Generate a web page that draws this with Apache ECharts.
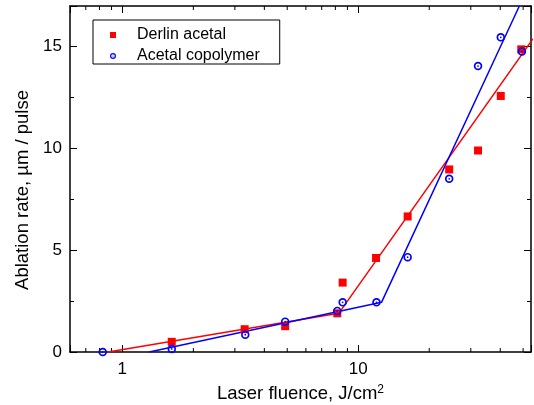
<!DOCTYPE html>
<html>
<head>
<meta charset="utf-8">
<script src="https://cdn.jsdelivr.net/npm/echarts@6/dist/echarts.min.js"></script>
<style>
html, body { margin: 0; padding: 0; background: #fff; }
#chart { width: 534px; height: 405px; }
</style>
</head>
<body>
<div id="chart"></div>
<script>
// measured points (fluence in J/cm2, rate in um / pulse)
var derlinFluence = [1.62, 3.30, 4.90, 8.15, 8.59, 11.9, 16.2, 24.3, 32.2, 40.2, 49.1];
var derlinRate    = [0.50, 1.12, 1.27, 1.90, 3.41, 4.62, 6.66, 8.97, 9.90, 12.58, 14.87];
var copolyFluence = [0.826, 1.62, 3.32, 4.90, 8.15, 8.59, 11.95, 16.2, 24.3, 32.2, 40.2, 49.4];
var copolyRate    = [0.00, 0.15, 0.85, 1.49, 2.02, 2.44, 2.44, 4.66, 8.51, 14.05, 15.46, 14.77];

// two-segment fit lines
var derlinFitX = [0.87, 8.27, 55];
var derlinFitY = [0, 1.90, 15.38];
var copolyFitX = [1.30, 12.55, 48.2];
var copolyFitY = [0, 2.44, 17.0];

// axes
var xMin = 0.6, xMax = 54;
var yMin = 0, yMax = 17;
var xMajorTicks = [1, 10];
var xMinorTicks = [0.7, 0.8, 0.9, 2, 3, 4, 5, 6, 7, 8, 9, 20, 30, 40, 50];

function pairs(xs, ys) {
  return xs.map(function (x, i) { return [x, ys[i]]; });
}

var squareSym = 'path://M0,0H10V10H0Z';
var ringDot = 'path://M10,0A10,10 0 1,1 10,20A10,10 0 1,1 10,0Z' +
  'M10,4A6,6 0 1,0 10,16A6,6 0 1,0 10,4Z' +
  'M10,8A2,2 0 1,1 10,12A2,2 0 1,1 10,8Z';

var axisCommon = {
  axisLine: { show: true, onZero: false, lineStyle: { color: '#000', width: 1.5 } },
  axisTick: { show: true, inside: true, length: 7, lineStyle: { color: '#000', width: 1 } },
  splitLine: { show: false }
};

var myChart = echarts.init(document.getElementById('chart'));

var option = {
  animation: false,
  backgroundColor: '#fff',
  grid: { left: 70, right: 3, top: 6, bottom: 53, outerBoundsMode: 'none' },
  legend: {
    data: ['Derlin acetal', 'Acetal copolymer'],
    orient: 'vertical',
    left: 93,
    top: 20,
    padding: [7, 20, 0, 17],
    itemWidth: 6,
    itemHeight: 6,
    itemGap: 5,
    symbolKeepAspect: true,
    borderColor: '#000',
    borderWidth: 1,
    backgroundColor: '#fff',
    textStyle: { fontFamily: 'Liberation Sans', fontSize: 16, color: '#000', padding: [0, 0, 0, 16] }
  },
  xAxis: [
    Object.assign({}, axisCommon, {
      type: 'log', logBase: 10, min: xMin, max: xMax, position: 'bottom',
      name: 'Laser fluence, J/cm{sup|2}',
      nameLocation: 'middle',
      nameGap: 32,
      nameTextStyle: {
        fontFamily: 'Liberation Sans', fontSize: 18.5, color: '#000',
        rich: { sup: { fontFamily: 'Liberation Sans', fontSize: 12, color: '#000', verticalAlign: 'top', padding: [0, 0, 8, 0] } }
      },
      axisLabel: {
        margin: 9, fontFamily: 'Liberation Sans', fontSize: 17, color: '#000',
        formatter: function (v) { return xMajorTicks.indexOf(Math.round(v * 1000) / 1000) >= 0 ? String(Math.round(v)) : ''; }
      }
    }),
    Object.assign({}, axisCommon, {
      type: 'log', logBase: 10, min: xMin, max: xMax, position: 'top',
      axisLabel: { show: false }
    })
  ],
  yAxis: [
    Object.assign({}, axisCommon, {
      type: 'value', min: yMin, max: yMax, interval: 5, position: 'left',
      name: 'Ablation rate, µm / pulse',
      nameLocation: 'middle',
      nameGap: 36,
      nameTextStyle: { fontFamily: 'Liberation Sans', fontSize: 18.5, color: '#000', padding: [0, 22, 0, 0] },
      minorTick: { show: true, splitNumber: 2, length: 4, lineStyle: { color: '#000', width: 1 } },
      axisLabel: {
        margin: 8, fontFamily: 'Liberation Sans', fontSize: 17, color: '#000',
        formatter: function (v) { return v % 5 === 0 ? String(v) : ''; }
      }
    }),
    Object.assign({}, axisCommon, {
      type: 'value', min: yMin, max: yMax, interval: 5, position: 'right',
      minorTick: { show: true, splitNumber: 2, length: 4, lineStyle: { color: '#000', width: 1 } },
      axisLabel: { show: false }
    })
  ],
  series: [
    {
      name: 'xMinorTicks',
      type: 'custom',
      silent: true,
      clip: false,
      data: xMinorTicks.map(function (v) { return [v, yMin]; }),
      encode: { x: 0, y: 1 },
      renderItem: function (params, api) {
        var b = api.coord([api.value(0), yMin]);
        var t = api.coord([api.value(0), yMax]);
        return {
          type: 'group',
          children: [
            { type: 'line', shape: { x1: b[0], y1: b[1], x2: b[0], y2: b[1] - 4 }, style: { stroke: '#000', lineWidth: 1 } },
            { type: 'line', shape: { x1: t[0], y1: t[1], x2: t[0], y2: t[1] + 4 }, style: { stroke: '#000', lineWidth: 1 } }
          ]
        };
      }
    },
    {
      name: 'Derlin fit',
      type: 'line',
      data: pairs(derlinFitX, derlinFitY),
      showSymbol: false,
      symbol: 'none',
      clip: true,
      z: 2,
      lineStyle: { color: '#ff0000', width: 1.5 }
    },
    {
      name: 'Copolymer fit',
      type: 'line',
      data: pairs(copolyFitX, copolyFitY),
      showSymbol: false,
      symbol: 'none',
      clip: true,
      z: 2,
      lineStyle: { color: '#0000ff', width: 1.5 }
    },
    {
      name: 'Derlin acetal',
      type: 'scatter',
      data: pairs(derlinFluence, derlinRate),
      symbol: squareSym,
      symbolSize: 8,
      clip: false,
      z: 3,
      itemStyle: { color: '#ff0000', opacity: 1 }
    },
    {
      name: 'Acetal copolymer',
      type: 'scatter',
      data: pairs(copolyFluence, copolyRate),
      symbol: ringDot,
      symbolSize: 8.5,
      clip: false,
      z: 4,
      itemStyle: { color: '#0000ff', opacity: 1 }
    }
  ]
};

myChart.setOption(option);
</script>
</body>
</html>
